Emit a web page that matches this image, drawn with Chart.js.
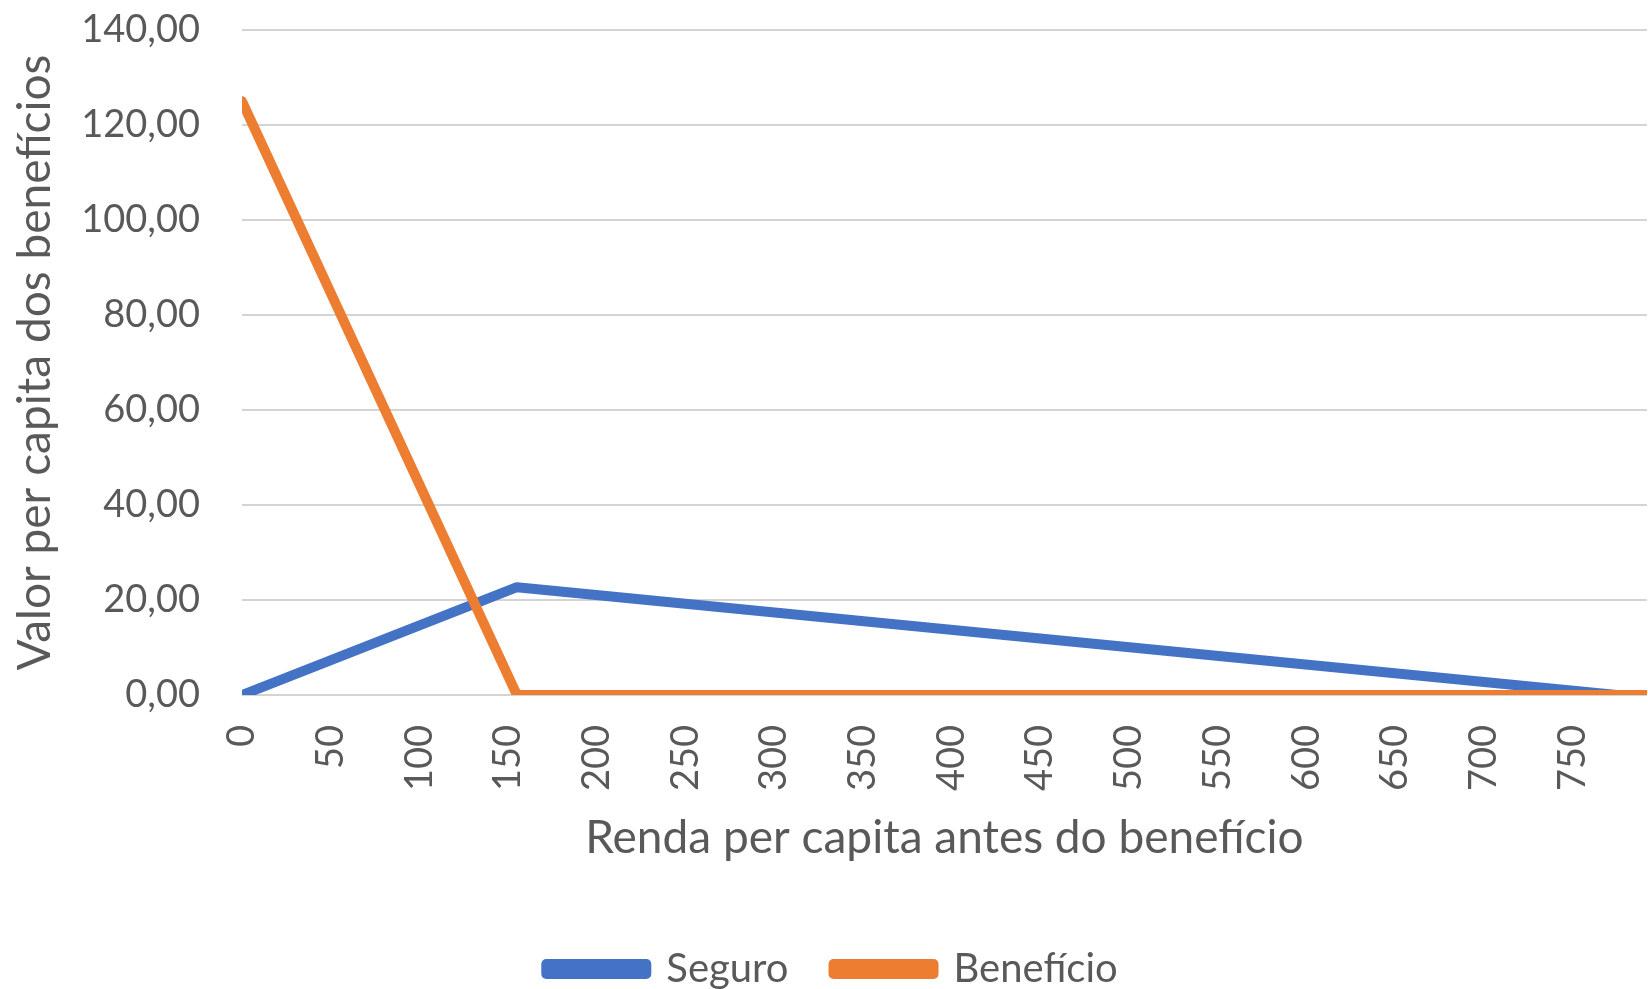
<!DOCTYPE html>
<html>
<head>
<meta charset="utf-8">
<script src="https://cdn.jsdelivr.net/npm/chart.js@4.4.1/dist/chart.umd.min.js"></script>
<style>
  html, body { margin: 0; padding: 0; background: #ffffff; }
  #wrap { width: 1648px; height: 989px; position: relative; }
</style>
</head>
<body>
<div id="wrap"><canvas id="c"></canvas></div>
<script>
// ---- data ----
const seguroRenda = [0, 155, 775, 800];
const seguroValor = [0, 22.7, 0, 0];
const beneficioRenda = [0, 155, 800];
const beneficioValor = [125, 0, 0];
const xTickValues = [0, 50, 100, 150, 200, 250, 300, 350, 400, 450, 500, 550, 600, 650, 700, 750];
const yTickValues = [0, 20, 40, 60, 80, 100, 120, 140];
const seriesNames = ['Seguro', 'Benefício'];
const xTitle = 'Renda per capita antes do benefício';
const yTitle = 'Valor per capita dos benefícios';

const toPoints = (xs, ys) => xs.map((x, i) => ({ x: x, y: ys[i] }));

const FONT = 'Lato';
const TEXT = '#595959';

const legendShift = {
  id: 'legendShift',
  afterLayout(chart) {
    if (chart.legend) { chart.legend.left = 0; chart.legend.right = 1664; }
  }
};

new Chart(document.getElementById('c'), {
  type: 'line',
  data: {
    datasets: [
      {
        label: seriesNames[0],
        data: toPoints(seguroRenda, seguroValor),
        borderColor: '#4472C4',
        backgroundColor: '#4472C4',
        borderWidth: 10,
        pointRadius: 0,
        borderJoinStyle: 'round',
        borderCapStyle: 'round',
        order: 2
      },
      {
        label: seriesNames[1],
        data: toPoints(beneficioRenda, beneficioValor),
        borderColor: '#ED7D31',
        backgroundColor: '#ED7D31',
        borderWidth: 10,
        pointRadius: 0,
        borderJoinStyle: 'round',
        borderCapStyle: 'round',
        order: 1
      }
    ]
  },
  options: {
    responsive: true,
    maintainAspectRatio: false,
    animation: false,
    layout: { padding: { top: 30, right: 0, bottom: -10, left: 0 } },
    plugins: {
      tooltip: { enabled: false },
      legend: {
        display: true,
        position: 'bottom',
        labels: {
          boxWidth: 100,
          boxHeight: 10,
          padding: 45,
          color: TEXT,
          font: { family: FONT, size: 40 },
          sort: (a, b) => a.datasetIndex - b.datasetIndex
        }
      }
    },
    scales: {
      x: {
        type: 'linear',
        min: 0,
        max: 792,
        grid: { display: false, drawTicks: false },
        border: { display: false },
        afterBuildTicks: (scale) => { scale.ticks = xTickValues.map(v => ({ value: v })); },
        afterFit: (scale) => { scale.height = 209; },
        ticks: {
          color: TEXT,
          font: { family: FONT, size: 38 },
          minRotation: 90,
          maxRotation: 90,
          padding: 30,
          autoSkip: false,
          callback: (v) => String(v)
        },
        title: {
          display: true,
          text: xTitle,
          color: TEXT,
          font: { family: FONT, size: 46 },
          padding: { top: 0, bottom: 38 }
        }
      },
      y: {
        min: 0,
        max: 140,
        grid: {
          color: '#D4D4D4',
          lineWidth: 2,
          drawTicks: true,
          tickLength: 42,
          tickColor: 'rgba(0,0,0,0)'
        },
        border: { display: false },
        afterBuildTicks: (scale) => { scale.ticks = yTickValues.map(v => ({ value: v })); },
        afterFit: (scale) => { scale.width = 242; },
        ticks: {
          color: TEXT,
          font: { family: FONT, size: 38 },
          padding: 0,
          callback: (v) => Number(v).toFixed(2).replace('.', ',')
        },
        title: {
          display: true,
          text: yTitle,
          color: TEXT,
          font: { family: FONT, size: 46 },
          padding: { top: 8, bottom: 0 }
        }
      }
    }
  },
  plugins: [legendShift]
});
</script>
</body>
</html>
